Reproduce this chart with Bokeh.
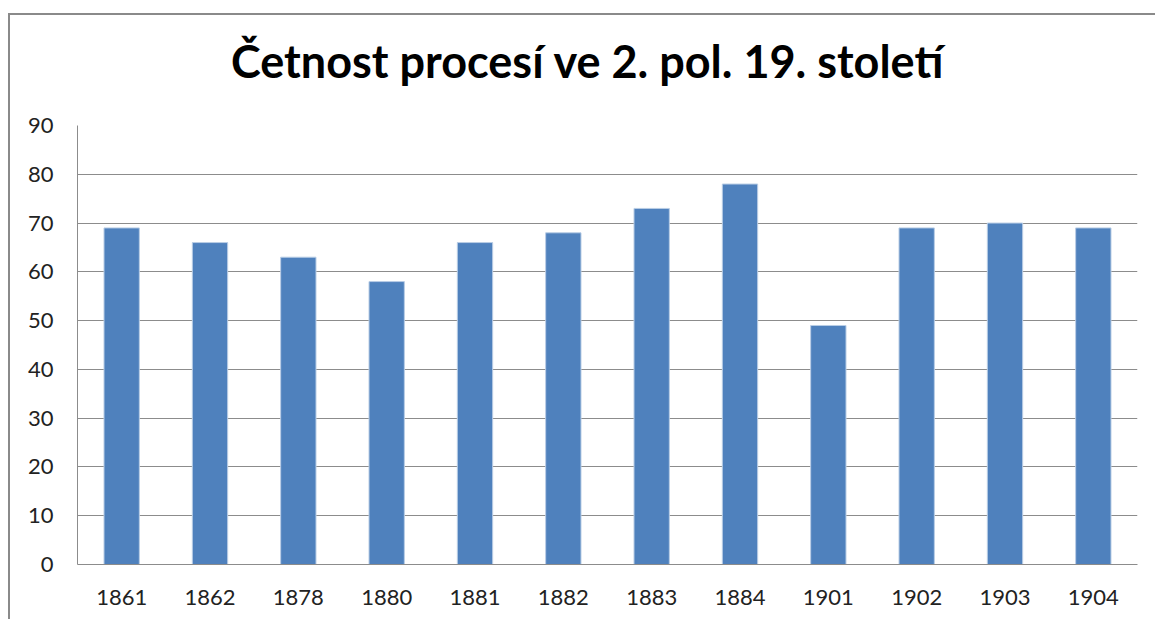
from bokeh.plotting import figure
from bokeh.models import FixedTicker, Range1d, Div
from bokeh.layouts import column
from bokeh.embed import file_html
from bokeh.resources import INLINE

years = ["1861", "1862", "1878", "1880", "1881", "1882", "1883", "1884", "1901", "1902", "1903", "1904"]
counts = [69, 66, 63, 58, 66, 68, 73, 78, 49, 69, 70, 69]
y_ticks = [0, 10, 20, 30, 40, 50, 60, 70, 80, 90]
title_text = "Četnost procesí ve 2. pol. 19. století"

FONT = "Lato"
GRID = "#8c8c8c"

title_div = Div(text=title_text, width=1145, height=80,
                styles={"font-family": FONT, "font-weight": "bold", "font-size": "45px",
                        "line-height": "82px", "color": "#000000", "white-space": "nowrap",
                        "text-indent": "216px", "overflow": "hidden"})

p = figure(x_range=years, y_range=Range1d(0, 90), width=1145, height=514,
           output_backend="svg", toolbar_location=None,
           min_border_left=67, min_border_right=18, min_border_top=20, min_border_bottom=55)
p.title = None

p.vbar(x=years, top=counts, width=0.4, fill_color="#4f81bd", line_color="#b9cde5", line_width=1)

p.outline_line_color = None
p.xgrid.grid_line_color = None
p.ygrid.grid_line_color = GRID
p.ygrid.grid_line_width = 1
p.yaxis.ticker = FixedTicker(ticks=y_ticks)

for ax in (p.xaxis[0], p.yaxis[0]):
    ax.axis_line_color = GRID
    ax.axis_line_width = 1
    ax.major_tick_out = 0
    ax.major_tick_in = 0
    ax.minor_tick_out = 0
    ax.minor_tick_in = 0
    ax.major_label_text_font = FONT
    ax.major_label_text_font_size = "22px"
    ax.major_label_text_color = "#222222"

p.yaxis.major_label_standoff = 24
p.xaxis.major_label_standoff = 25
p.x_range.range_padding = 0
p.background_fill_color = "white"
p.border_fill_color = "white"

layout = column(title_div, p, spacing=0,
                styles={"margin-top": "13px", "margin-left": "8px",
                        "border-left": "2px solid #8a8a8a", "border-top": "2px solid #8a8a8a"})

open("out.html", "w").write(file_html(layout, INLINE))
